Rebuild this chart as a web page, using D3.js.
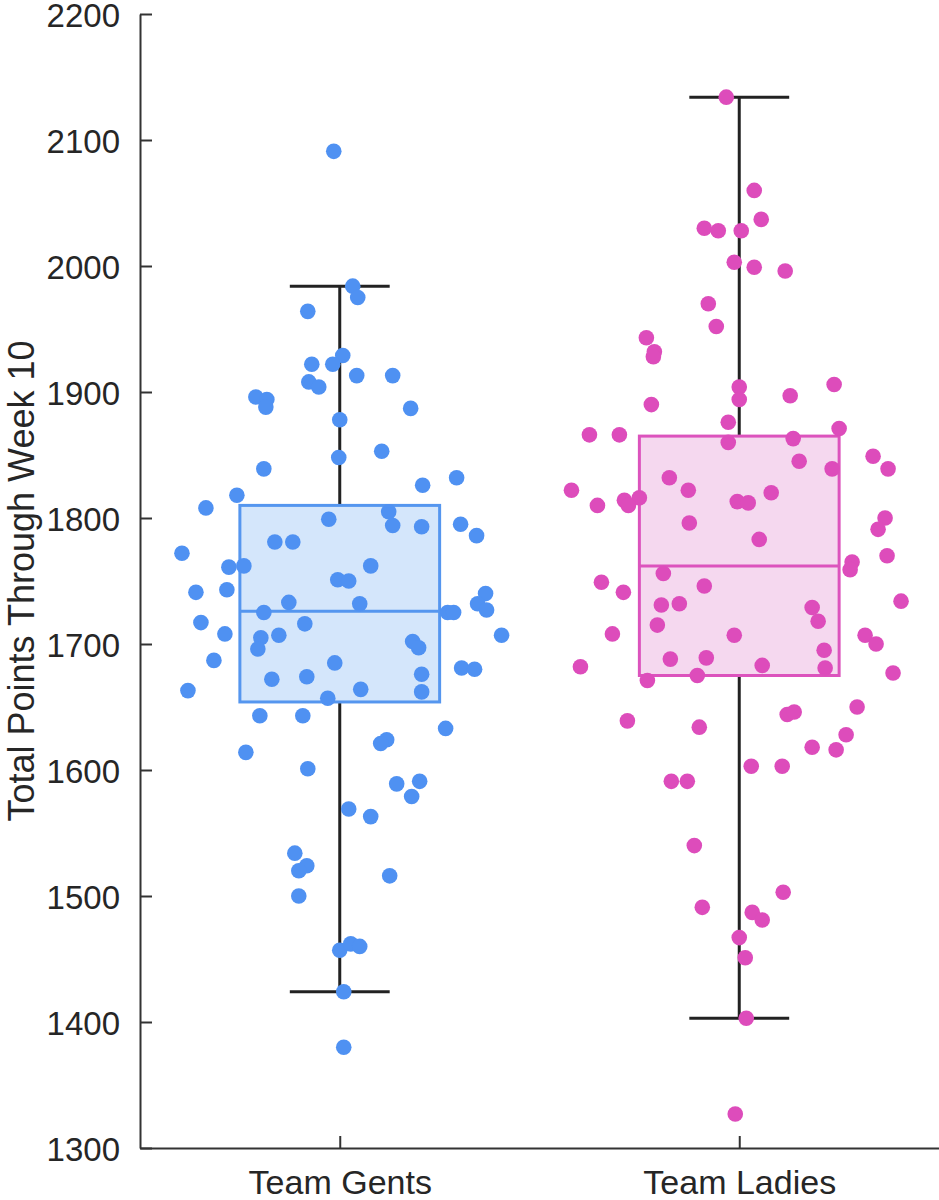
<!DOCTYPE html>
<html>
<head>
<meta charset="utf-8">
<script src="https://cdn.jsdelivr.net/npm/d3@7/dist/d3.min.js"></script>
<style>
  html, body { margin: 0; padding: 0; background: #fff; }
  svg { display: block; }
  text { font-family: "Liberation Sans", Arial, Helvetica, sans-serif; fill: #262626; }
</style>
</head>
<body>
<svg id="chart" width="939" height="1200"></svg>
<script>
// ---------------- DATA ----------------
const categories = ["Team Gents", "Team Ladies"];
const yTicks = [1300, 1400, 1500, 1600, 1700, 1800, 1900, 2000, 2100, 2200];
const yDomain = [1300, 2200];
const yTitle = "Total Points Through Week 10";

// box statistics: [lower whisker, Q1, median, Q3, upper whisker]
const gentsBox  = [1424, 1654, 1726, 1810, 1984];
const ladiesBox = [1403, 1675, 1762, 1865, 2134];

// Team Gents points (value) and horizontal jitter (fraction of half box width)
const gentsValues = [
  2091, 1984, 1975, 1964, 1929, 1922, 1922, 1913, 1913, 1908, 1904, 1896, 1894, 1888, 1887, 1878,
  1848, 1853, 1839, 1826, 1832, 1818, 1808, 1799, 1805, 1794, 1793, 1795, 1786, 1781, 1781, 1772,
  1761, 1762, 1762, 1751, 1750, 1741, 1743, 1740, 1733, 1732, 1732, 1727, 1725, 1725, 1725, 1717,
  1716, 1708, 1707, 1705, 1696, 1707, 1702, 1697, 1687, 1685, 1681, 1680, 1676, 1672, 1674, 1663,
  1664, 1662, 1657, 1643, 1643, 1633, 1624, 1621, 1614, 1601, 1589, 1591, 1579, 1569, 1563, 1534,
  1524, 1520, 1516, 1500, 1457, 1462, 1460, 1424, 1380
];
const gentsJitter = [
  -0.06, 0.13, 0.18, -0.32, 0.03, -0.28, -0.07, 0.17, 0.53, -0.31, -0.21, -0.84, -0.73, -0.74, 0.71, 0.00,
  -0.01, 0.42, -0.76, 0.83, 1.17, -1.03, -1.34, -0.11, 0.49, 0.53, 0.82, 1.21, 1.37, -0.65, -0.47, -1.58,
  -1.11, -0.96, 0.31, -0.02, 0.09, -1.44, -1.13, 1.46, -0.51, 0.20, 1.38, 1.47, -0.76, 1.08, 1.14, -1.39,
  -0.35, -1.15, -0.61, -0.79, -0.82, 1.62, 0.73, 0.79, -1.26, -0.05, 1.22, 1.35, 0.82, -0.68, -0.33, -1.52,
  0.21, 0.82, -0.12, -0.80, -0.37, 1.06, 0.47, 0.41, -0.94, -0.32, 0.57, 0.80, 0.72, 0.09, 0.31, -0.45,
  -0.33, -0.41, 0.50, -0.41, 0.00, 0.11, 0.20, 0.04, 0.04
];

// Team Ladies points (value) and horizontal jitter
const ladiesValues = [
  2134, 2060, 2037, 2030, 2028, 2028, 2003, 1999, 1996, 1970, 1952, 1943, 1932, 1928, 1904, 1894,
  1897, 1906, 1890, 1876, 1871, 1866, 1866, 1860, 1863, 1845, 1839, 1849, 1839, 1832, 1822, 1822,
  1820, 1813, 1812, 1814, 1816, 1810, 1810, 1800, 1791, 1796, 1783, 1770, 1765, 1759, 1756, 1749,
  1746, 1741, 1734, 1731, 1732, 1729, 1718, 1715, 1708, 1707, 1707, 1700, 1695, 1688, 1689, 1683,
  1681, 1682, 1677, 1675, 1671, 1650, 1639, 1634, 1644, 1646, 1628, 1618, 1616, 1603, 1603, 1591,
  1591, 1540, 1503, 1491, 1487, 1481, 1467, 1451, 1403, 1327
];
const ladiesJitter = [
  -0.13, 0.15, 0.22, -0.35, -0.21, 0.02, -0.05, 0.15, 0.46, -0.31, -0.23, -0.93, -0.85, -0.86, 0.00, 0.00,
  0.51, 0.95, -0.88, -0.11, 1.00, -1.50, -1.20, -0.11, 0.54, 0.60, 0.93, 1.34, 1.49, -0.70, -0.51, -1.68,
  0.32, -0.02, 0.09, -1.15, -1.00, -1.11, -1.42, 1.46, 1.39, -0.50, 0.20, 1.48, 1.13, 1.11, -0.76, -1.38,
  -0.35, -1.16, 1.62, -0.78, -0.60, 0.73, 0.79, -0.82, -1.27, -0.05, 1.26, 1.37, 0.85, -0.69, -0.33, 0.23,
  0.86, -1.59, 1.54, -0.42, -0.92, 1.18, -1.12, -0.40, 0.48, 0.55, 1.07, 0.73, 0.97, 0.12, 0.43, -0.68,
  -0.52, -0.45, 0.44, -0.37, 0.13, 0.23, 0.00, 0.06, 0.07, -0.04
];

const seriesColors = ["#4f91f2", "#dd4cbb"];
const boxFills     = ["#d4e6fb", "#f5d8ef"];
const boxStrokes   = ["#5596ef", "#dc53bd"];

// ---------------- CHART ----------------
const mLeft = 140, mRight = 939, mTop = 14, mBottom = 1148;

const svg = d3.select("#chart");

const x = d3.scalePoint().domain(categories).range([mLeft, mRight]).padding(0.5);
const y = d3.scaleLinear().domain(yDomain).range([mBottom, mTop]);

const boxW = x.step() / 2;
const capW = boxW / 2;

const groups = [
  { cat: categories[0], box: gentsBox,  values: gentsValues,  jitter: gentsJitter,  i: 0 },
  { cat: categories[1], box: ladiesBox, values: ladiesValues, jitter: ladiesJitter, i: 1 }
];

// boxes
const g = svg.append("g");
groups.forEach(d => {
  const cx = x(d.cat);
  const [lo, q1, med, q3, hi] = d.box;
  g.append("line").attr("x1", cx).attr("x2", cx).attr("y1", y(hi)).attr("y2", y(q3))
    .attr("stroke", "#222").attr("stroke-width", 3);
  g.append("line").attr("x1", cx).attr("x2", cx).attr("y1", y(q1)).attr("y2", y(lo))
    .attr("stroke", "#222").attr("stroke-width", 3);
  [lo, hi].forEach(v => {
    g.append("line").attr("x1", cx - capW / 2).attr("x2", cx + capW / 2)
      .attr("y1", y(v)).attr("y2", y(v)).attr("stroke", "#222").attr("stroke-width", 3);
  });
  g.append("rect").attr("x", cx - boxW / 2).attr("y", y(q3))
    .attr("width", boxW).attr("height", y(q1) - y(q3))
    .attr("fill", boxFills[d.i]).attr("stroke", boxStrokes[d.i]).attr("stroke-width", 3);
  g.append("line").attr("x1", cx - boxW / 2).attr("x2", cx + boxW / 2)
    .attr("y1", y(med)).attr("y2", y(med))
    .attr("stroke", boxStrokes[d.i]).attr("stroke-width", 3);
});

// points
groups.forEach(d => {
  const cx = x(d.cat);
  svg.append("g").selectAll("circle")
    .data(d.values.map((v, k) => ({ v, j: d.jitter[k] })))
    .join("circle")
    .attr("cx", p => cx + p.j * boxW / 2)
    .attr("cy", p => y(p.v))
    .attr("r", 7.8)
    .attr("fill", seriesColors[d.i]);
});

// axes
const yAxis = d3.axisLeft(y).tickValues(yTicks).tickFormat(d3.format("d"))
  .tickSizeInner(-12).tickSizeOuter(0).tickPadding(20);
const gy = svg.append("g").attr("transform", `translate(${mLeft},0)`).call(yAxis);
gy.selectAll("text").style("font-size", "33px").attr("dy", "0.37em").attr("fill", "#262626");

const xAxis = d3.axisBottom(x).tickSizeInner(-12).tickSizeOuter(0).tickPadding(22);
const gx = svg.append("g").attr("transform", `translate(0,${mBottom})`).call(xAxis);
gx.selectAll("text").style("font-size", "34px").attr("fill", "#262626");

[gx, gy].forEach(a => {
  a.select(".domain").attr("stroke", "#333").attr("stroke-width", 2);
  a.selectAll(".tick line").attr("stroke", "#333").attr("stroke-width", 2);
});

// y title
svg.append("text")
  .attr("transform", `translate(34,${(mTop + mBottom) / 2}) rotate(-90)`)
  .attr("text-anchor", "middle")
  .style("font-size", "36px")
  .text(yTitle);
</script>
</body>
</html>
